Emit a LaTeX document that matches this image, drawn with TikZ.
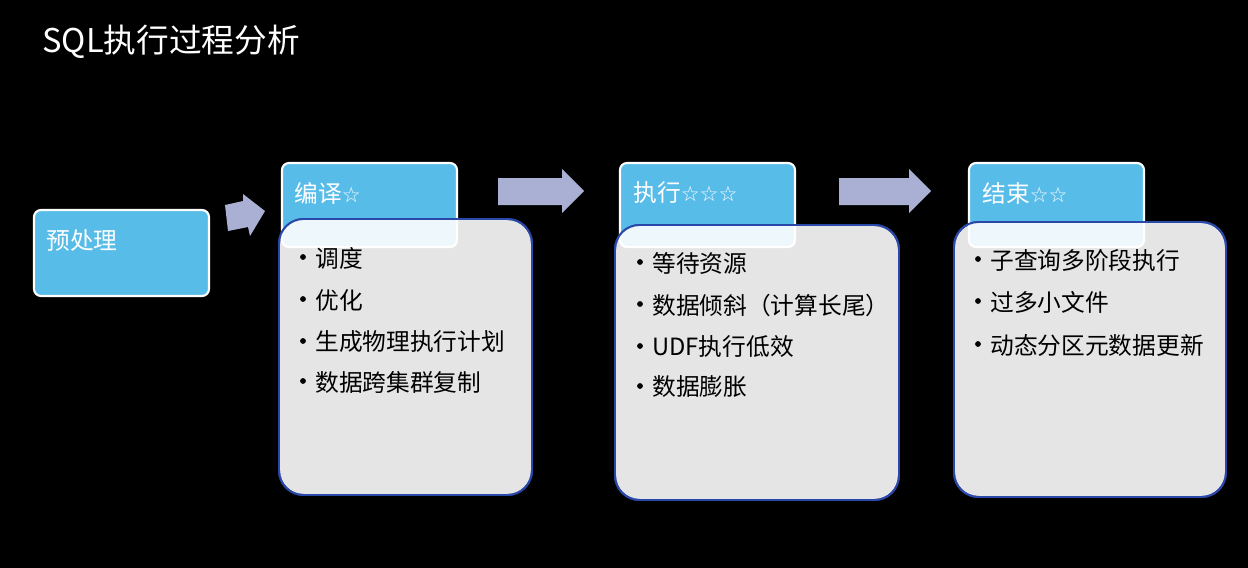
\documentclass[tikz,border=0pt]{standalone}
\usepackage{fontspec}
\setmainfont{Noto Sans CJK SC}
\newfontfamily\symfont{DejaVu Sans}
\definecolor{hdrblue}{HTML}{58BCE9}
\definecolor{boxgray}{HTML}{E5E5E5}
\definecolor{boxline}{HTML}{2A48A8}
\definecolor{overlap}{HTML}{EEF8FC}
\definecolor{arrowc}{HTML}{AAB0D4}
\tikzset{
  hdr/.style={draw=white, line width=1.2pt, fill=hdrblue, rounded corners=4pt},
  body/.style={draw=boxline, line width=1.1pt, fill=boxgray, rounded corners=14pt},
  hdrtxt/.style={anchor=west, inner sep=0pt, text=white, font=\fontsize{13.5}{16}\selectfont},
  itemtxt/.style={anchor=west, inner sep=0pt, text=black, font=\fontsize{13.5}{16}\selectfont},
  arr/.style={fill=arrowc, draw=none}
}
\newcommand{\st}{{\symfont\fontsize{12}{12}\selectfont ☆}}
\newcommand{\bul}[1]{\fill[black] ([xshift=-0.24cm,yshift=0.02cm]#1.west) circle (2.9);}
\begin{document}
\begin{tikzpicture}[x=0.02cm,y=-0.02cm]
\fill[black] (0,0) rectangle (1248,568);
\useasboundingbox (0,0) rectangle (1248,568);

\node[anchor=west, inner sep=0pt, text=white, font=\fontsize{18.6}{22}\selectfont] (title) at (42,42) {SQL执行过程分析};

% pre-processing
\draw[hdr] (34,210) rectangle (209,296);
\node[hdrtxt] (pre) at (46,241) {预处理};

% arrow 1
\fill[arr] (225,205) -- (243,201) -- (243,194) -- (265,211) -- (250,236) -- (248,227) -- (228,231) -- cycle;

% stage 1: compile
\draw[hdr] (282,163) rectangle (457,247);
\draw[body] (279,219) rectangle (532,495);
\begin{scope}
  \clip[rounded corners=14pt] (279,219) rectangle (532,495);
  \draw[hdr, fill=overlap] (282,163) rectangle (457,247);
\end{scope}
\draw[body, fill=none] (279,219) rectangle (532,495);
\node[hdrtxt] (h1) at (294,193) {编译\st};
\node[itemtxt] (a1) at (315,258) {调度};
\node[itemtxt] (a2) at (315,300) {优化};
\node[itemtxt] (a3) at (315,342) {生成物理执行计划};
\node[itemtxt] (a4) at (315,382) {数据跨集群复制};
\bul{a1}\bul{a2}\bul{a3}\bul{a4}

% arrow 2
\fill[arr] (498,178) -- (562,178) -- (562,169) -- (584,191) -- (562,213) -- (562,205) -- (498,205) -- cycle;

% stage 2: execute
\draw[hdr] (620,163) rectangle (795,247);
\draw[body] (615,225) rectangle (899,500);
\begin{scope}
  \clip[rounded corners=14pt] (615,225) rectangle (899,500);
  \draw[hdr, fill=overlap] (620,163) rectangle (795,247);
\end{scope}
\draw[body, fill=none] (615,225) rectangle (899,500);
\node[hdrtxt] (h2) at (633,193) {执行\st\st\st};
\node[itemtxt] (b1) at (652,263) {等待资源};
\node[itemtxt] (b2) at (652,305) {数据倾斜（计算长尾）};
\node[itemtxt] (b3) at (652,347) {UDF执行低效};
\node[itemtxt] (b4) at (652,387) {数据膨胀};
\bul{b1}\bul{b2}\bul{b3}\bul{b4}

% arrow 3
\fill[arr] (839,178) -- (909,178) -- (909,169) -- (931,191) -- (909,213) -- (909,205) -- (839,205) -- cycle;

% stage 3: finish
\draw[hdr] (969,163) rectangle (1144,247);
\draw[body] (954,222) rectangle (1226,497);
\begin{scope}
  \clip[rounded corners=14pt] (954,222) rectangle (1226,497);
  \draw[hdr, fill=overlap] (969,163) rectangle (1144,247);
\end{scope}
\draw[body, fill=none] (954,222) rectangle (1226,497);
\node[hdrtxt] (h3) at (982,193) {结束\st\st};
\node[itemtxt] (c1) at (990,260) {子查询多阶段执行};
\node[itemtxt] (c2) at (990,302) {过多小文件};
\node[itemtxt] (c3) at (990,345) {动态分区元数据更新};
\bul{c1}\bul{c2}\bul{c3}
\end{tikzpicture}
\end{document}
